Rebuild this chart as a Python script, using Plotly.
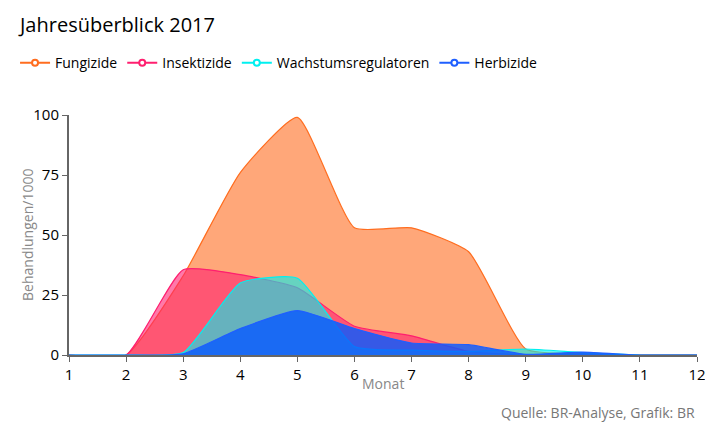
import plotly.graph_objects as go

monate = list(range(1, 13))
fungizide = [0, 0, 33, 76, 99, 53, 53, 43, 2.5, 0.5, 0, 0]
insektizide = [0, 0, 35.5, 33.5, 28, 12, 8, 1.5, 0, 0.5, 0, 0]
wachstum = [0, 0, 1, 30, 32, 3.5, 2, 1.5, 2.5, 1, 0, 0]
herbizide = [0, 0, 0.5, 11, 18.5, 11, 5, 4.3, 0.3, 1.2, 0, 0]

serien = [
    ("Fungizide", fungizide, "#ff6d1f", "rgba(255,109,31,0.6)"),
    ("Insektizide", insektizide, "#ff1f6f", "rgba(255,31,111,0.6)"),
    ("Wachstumsregulatoren", wachstum, "#00f0f0", "rgba(0,240,240,0.6)"),
    ("Herbizide", herbizide, "#1f5fff", "rgba(10,90,255,0.82)"),
]

fig = go.Figure()
for name, werte, farbe, fuell in serien:
    fig.add_trace(go.Scatter(
        x=monate, y=werte, name=name, mode="lines",
        line=dict(color=farbe, width=1.2, shape="spline", smoothing=0.5),
        fill="tozeroy", fillcolor=fuell, showlegend=False, hoverinfo="skip"))
    # legend-only entry with ring marker
    fig.add_trace(go.Scatter(
        x=[None], y=[None], name=name, mode="lines+markers",
        line=dict(color=farbe, width=2),
        marker=dict(symbol="circle", size=6, color="white",
                    line=dict(color=farbe, width=2))))

# page body has an 8px margin, so the figure is a bit smaller than the window
fig.update_layout(
    width=705, height=415,
    font=dict(family="Open Sans", size=14, color="#000"),
    paper_bgcolor="white", plot_bgcolor="white",
    margin=dict(l=61, r=16, t=107, b=68, autoexpand=False),
    title=dict(text="Jahresüberblick 2017", x=0.017, xanchor="left",
               y=0.959, yanchor="middle", font=dict(size=20, color="#000")),
    legend=dict(orientation="h", xref="container", x=0.01, xanchor="left",
                yref="container", y=0.867, yanchor="middle",
                font=dict(size=14), itemwidth=30, tracegroupgap=0),
    annotations=[
        dict(text="Quelle: BR-Analyse, Grafik: BR", xref="paper",
             yref="paper", x=1, xanchor="right", y=-0.2375,
             yanchor="middle", showarrow=False,
             font=dict(size=14, color="#777")),
        dict(text="Monat", xref="paper", yref="paper", x=0.5,
             xanchor="center", y=-0.117, yanchor="middle", showarrow=False,
             font=dict(size=14, color="#888")),
        dict(text="Behandlungen/1000", xref="paper", yref="paper",
             x=-0.067, xanchor="center", y=0.5, yanchor="middle",
             textangle=-90, showarrow=False,
             font=dict(size=14, color="#888")),
    ],
)
fig.update_xaxes(range=[1, 12], dtick=1, showgrid=False, zeroline=False,
                 showline=True, linecolor="#666", linewidth=2,
                 ticks="outside", tickcolor="#666", ticklen=5,
                 tickfont=dict(size=15), automargin=False)
fig.update_yaxes(range=[0, 100], tickvals=[0, 25, 50, 75, 100],
                 showgrid=False, zeroline=False,
                 showline=True, linecolor="#666", linewidth=2,
                 ticks="outside", tickcolor="#666", ticklen=5,
                 tickfont=dict(size=15), automargin=False)

fig.write_html("out.html")
